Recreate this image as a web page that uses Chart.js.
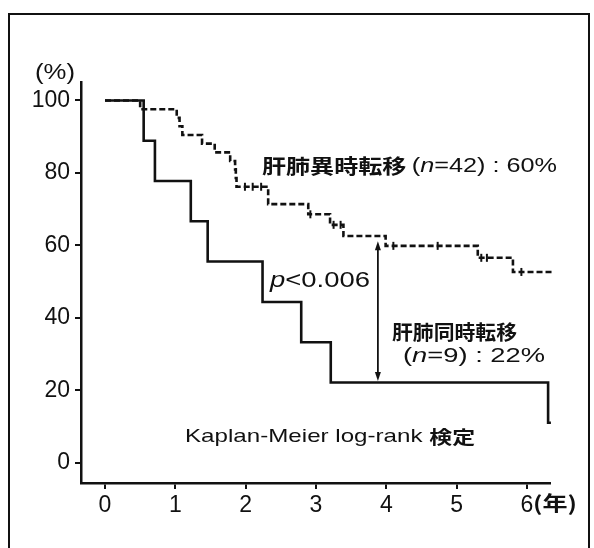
<!DOCTYPE html>
<html>
<head>
<meta charset="utf-8">
<script src="https://cdn.jsdelivr.net/npm/chart.js@4/dist/chart.umd.min.js"></script>
<style>
  html, body { margin: 0; padding: 0; background: #fff; }
  #wrap { width: 594px; height: 548px; }
</style>
</head>
<body>
<div id="wrap"><canvas id="km" width="594" height="548"></canvas></div>
<script>
// ── Data ──────────────────────────────────────────────────────────────────
const X_TICKS = [0, 1, 2, 3, 4, 5, 6];
const Y_TICKS = [0, 20, 40, 60, 80, 100];

// 肝肺同時転移 (n=9), solid
const SYNC_TIME = [0, 0.55, 0.71, 1.22, 1.46, 2.24, 2.79, 3.21, 6.3, 6.34];
const SYNC_SURV = [100, 88.9, 77.8, 66.7, 55.6, 44.4, 33.3, 22.2, 11.1, 11.1];

// 肝肺異時転移 (n=42), dashed
const META_TIME = [0, 0.5, 1.02, 1.06, 1.1, 1.38, 1.56, 1.78, 1.85, 1.86, 1.87, 2.32, 2.89, 3.2, 3.39, 3.99, 5.3, 5.8, 6.36];
const META_SURV = [100, 97.6, 95.2, 92.9, 90.5, 88.1, 85.7, 83.3, 81.0, 78.6, 76.2, 71.4, 68.6, 65.7, 62.6, 59.9, 56.6, 52.7, 52.7];

// censored cases on the dashed curve
const CENSOR_TIME = [1.99, 2.1, 2.22, 2.92, 3.25, 3.35, 4.1, 4.73, 5.35, 5.43, 5.92];
const CENSOR_SURV = [76.2, 76.2, 76.2, 68.6, 65.7, 65.7, 59.9, 59.9, 56.6, 56.6, 52.7];

// arrow between the curves at ~3.9 years
const ARROW_TIME = 3.88;
const ARROW_FROM = 61.2;
const ARROW_TO = 22.6;

const pts = (xs, ys) => xs.map((x, i) => ({ x, y: ys[i] }));

// ── Helpers ───────────────────────────────────────────────────────────────
const LATIN = '"Liberation Sans", Arial, sans-serif';
const CJK = '"Noto Sans CJK JP", sans-serif';

// draw a row of text runs, squeezed/stretched to a target width
function drawRuns(ctx, runs, x0, x1, y) {
  ctx.save();
  ctx.textBaseline = 'middle';
  ctx.textAlign = 'left';
  let w = 0;
  runs.forEach(r => { ctx.font = r.f; w += ctx.measureText(r.t).width; });
  ctx.translate(x0, y);
  ctx.scale((x1 - x0) / w, 1);
  let cx = 0;
  runs.forEach(r => {
    ctx.font = r.f;
    ctx.fillText(r.t, cx, 0);
    cx += ctx.measureText(r.t).width;
  });
  ctx.restore();
}

function arrowHead(ctx, x, y, dir) {
  ctx.beginPath();
  ctx.moveTo(x, y);
  ctx.lineTo(x - 3, y - dir * 9);
  ctx.lineTo(x + 3, y - dir * 9);
  ctx.closePath();
  ctx.fill();
}

const framePlugin = {
  id: 'frame',
  beforeDraw(chart) {
    const ctx = chart.ctx;
    ctx.save();
    ctx.fillStyle = '#fff';
    ctx.fillRect(0, 0, chart.width, chart.height);
    ctx.strokeStyle = '#111';
    ctx.lineWidth = 2;
    ctx.beginPath();
    ctx.moveTo(9, 560); ctx.lineTo(9, 14); ctx.lineTo(589, 14); ctx.lineTo(589, 560);
    ctx.stroke();
    ctx.restore();
  },
};

const notesPlugin = {
  id: 'notes',
  afterDraw(chart) {
    const ctx = chart.ctx;
    const xs = chart.scales.x, ys = chart.scales.y;
    ctx.save();
    ctx.fillStyle = '#111';
    ctx.strokeStyle = '#111';

    drawRuns(ctx, [{ t: '(%)', f: `22px ${LATIN}` }], 35, 75, 73);
    drawRuns(ctx, [{ t: '(年)', f: `bold 20px ${CJK}` }], 533, 577, 503);

    drawRuns(ctx, [
      { t: '肝肺異時転移 ', f: `bold 20px ${CJK}` },
      { t: '(', f: `21px ${LATIN}` },
      { t: 'n', f: `italic 21px ${LATIN}` },
      { t: '=42) : 60%', f: `21px ${LATIN}` },
    ], 262, 557, 166);

    drawRuns(ctx, [
      { t: 'p', f: `italic 22px ${LATIN}` },
      { t: '<0.006', f: `22px ${LATIN}` },
    ], 270, 370, 281);

    drawRuns(ctx, [{ t: '肝肺同時転移', f: `bold 20px ${CJK}` }], 392, 517, 332);
    drawRuns(ctx, [
      { t: '(', f: `21px ${LATIN}` },
      { t: 'n', f: `italic 21px ${LATIN}` },
      { t: '=9) : 22%', f: `21px ${LATIN}` },
    ], 403, 545, 356);

    drawRuns(ctx, [
      { t: 'Kaplan-Meier log-rank ', f: `19px ${LATIN}` },
      { t: '検定', f: `bold 18px ${CJK}` },
    ], 185, 475, 437);

    // double-headed arrow
    const ax = xs.getPixelForValue(ARROW_TIME);
    const ay0 = ys.getPixelForValue(ARROW_FROM);
    const ay1 = ys.getPixelForValue(ARROW_TO);
    ctx.lineWidth = 1.8;
    ctx.beginPath();
    ctx.moveTo(ax, ay0 + 4);
    ctx.lineTo(ax, ay1 - 4);
    ctx.stroke();
    arrowHead(ctx, ax, ay0, -1);
    arrowHead(ctx, ax, ay1, 1);
    ctx.restore();
  },
};

// ── Chart ─────────────────────────────────────────────────────────────────
new Chart(document.getElementById('km'), {
  type: 'scatter',
  data: {
    datasets: [
      {
        label: '肝肺異時転移',
        data: pts(META_TIME, META_SURV),
        showLine: true,
        stepped: true,
        borderColor: '#111',
        borderWidth: 2.6,
        borderDash: [6, 3],
        pointRadius: 0,
        clip: false,
      },
      {
        label: '打ち切り',
        data: pts(CENSOR_TIME, CENSOR_SURV),
        showLine: false,
        pointStyle: 'line',
        rotation: 90,
        pointRadius: 4,
        borderWidth: 2,
        borderColor: '#111',
        clip: false,
      },
      {
        label: '肝肺同時転移',
        data: pts(SYNC_TIME, SYNC_SURV),
        showLine: true,
        stepped: true,
        borderColor: '#111',
        borderWidth: 2.6,
        pointRadius: 0,
        clip: false,
      },
    ],
  },
  options: {
    responsive: false,
    animation: false,
    events: [],
    layout: { padding: { top: 82, right: 44, bottom: 0, left: 0 } },
    plugins: { legend: { display: false }, tooltip: { enabled: false } },
    scales: {
      x: {
        type: 'linear',
        min: -0.341, max: 6.327,
        afterBuildTicks: s => { s.ticks = X_TICKS.map(v => ({ value: v })); },
        afterFit: s => { s.height = 65; },
        grid: { drawOnChartArea: false, drawTicks: true, tickLength: 6, color: '#111', lineWidth: 2 },
        border: { display: true, color: '#111', width: 2.5 },
        ticks: { color: '#111', font: { family: LATIN, size: 23 }, padding: 3 },
      },
      y: {
        type: 'linear',
        min: -5.52, max: 105.1,
        afterBuildTicks: s => { s.ticks = Y_TICKS.map(v => ({ value: v })); },
        afterFit: s => { s.width = 81; },
        grid: { drawOnChartArea: false, drawTicks: true, tickLength: 6, color: '#111', lineWidth: 2 },
        border: { display: true, color: '#111', width: 2.5 },
        ticks: { color: '#111', font: { family: LATIN, size: 23 }, padding: 5 },
      },
    },
  },
  plugins: [framePlugin, notesPlugin],
});
</script>
</body>
</html>
